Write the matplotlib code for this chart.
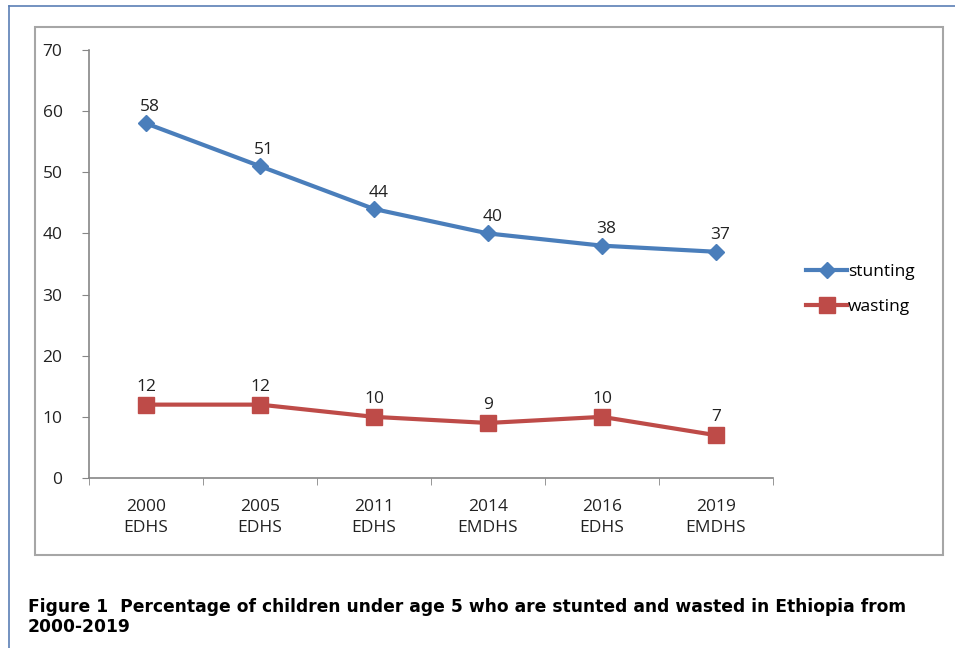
import matplotlib.pyplot as plt
from matplotlib.patches import Rectangle
from matplotlib.lines import Line2D

surveys = ["2000\nEDHS", "2005\nEDHS", "2011\nEDHS", "2014\nEMDHS", "2016\nEDHS", "2019\nEMDHS"]
stunting = [58, 51, 44, 40, 38, 37]
wasting = [12, 12, 10, 9, 10, 7]
yticks = [0, 10, 20, 30, 40, 50, 60, 70]

blue = "#4A7EBB"
red = "#BE4B48"
font = "Open Sans"
fs = 12.5

fig = plt.figure(figsize=(9.55, 6.48), dpi=100)

# outer page frame (left and top only) and chart box
fig.add_artist(Line2D([9/955, 9/955], [0, 1 - 6/648], color="#5B7FB5", lw=1.2))
fig.add_artist(Line2D([9/955, 1], [1 - 6/648, 1 - 6/648], color="#5B7FB5", lw=1.2))
fig.add_artist(Rectangle((35/955, 1 - 555/648), (943 - 35)/955, (555 - 27)/648,
                         fill=False, ec="#A6A6A6", lw=1.5))

ax = fig.add_axes([89/955, 1 - 478/648, 684/955, 428/648])
x = list(range(len(surveys)))
ax.plot(x, stunting, color=blue, lw=3, marker="D", ms=8.5, label="stunting")
ax.plot(x, wasting, color=red, lw=3, marker="s", ms=11, label="wasting")

for xi, v in zip(x, stunting):
    ax.annotate(str(v), (xi, v), xytext=(3, 6), textcoords="offset points",
                ha="center", va="bottom", fontsize=fs, family=font, color="#222222")
for xi, v in zip(x, wasting):
    ax.annotate(str(v), (xi, v), xytext=(0, 7), textcoords="offset points",
                ha="center", va="bottom", fontsize=fs, family=font, color="#222222")

ax.set_xlim(-0.5, 5.5)
ax.set_ylim(0, 70)
ax.set_yticks(yticks)
ax.set_xticks(x)
ax.set_xticklabels(surveys, family=font, fontsize=fs, color="#222222", linespacing=1.45)
ax.set_yticklabels([str(t) for t in yticks], family=font, fontsize=fs, color="#222222")
ax.set_xticks([i - 0.5 for i in range(len(surveys) + 1)], minor=True)
ax.tick_params(axis="x", which="major", length=0, pad=15)
ax.tick_params(axis="x", which="minor", length=5, direction="out", color="#868686")
ax.tick_params(axis="y", length=5, color="#868686", pad=14)
for s in ["top", "right"]:
    ax.spines[s].set_visible(False)
for s in ["left", "bottom"]:
    ax.spines[s].set_color("#868686")
    ax.spines[s].set_linewidth(1.2)

leg = ax.legend(loc="center left", bbox_to_anchor=(1.025, 0.44), frameon=False,
                prop={"family": font, "size": fs}, handlelength=2.4, handletextpad=0.05,
                labelspacing=1.1)

fig.text(28/955, 1 - 617/648,
         "Figure 1  Percentage of children under age 5 who are stunted and wasted in Ethiopia from\n2000-2019",
         ha="left", va="center", fontsize=12.3, fontweight="bold", family="DejaVu Sans",
         linespacing=1.2)

fig.savefig("out.png", dpi=100)
